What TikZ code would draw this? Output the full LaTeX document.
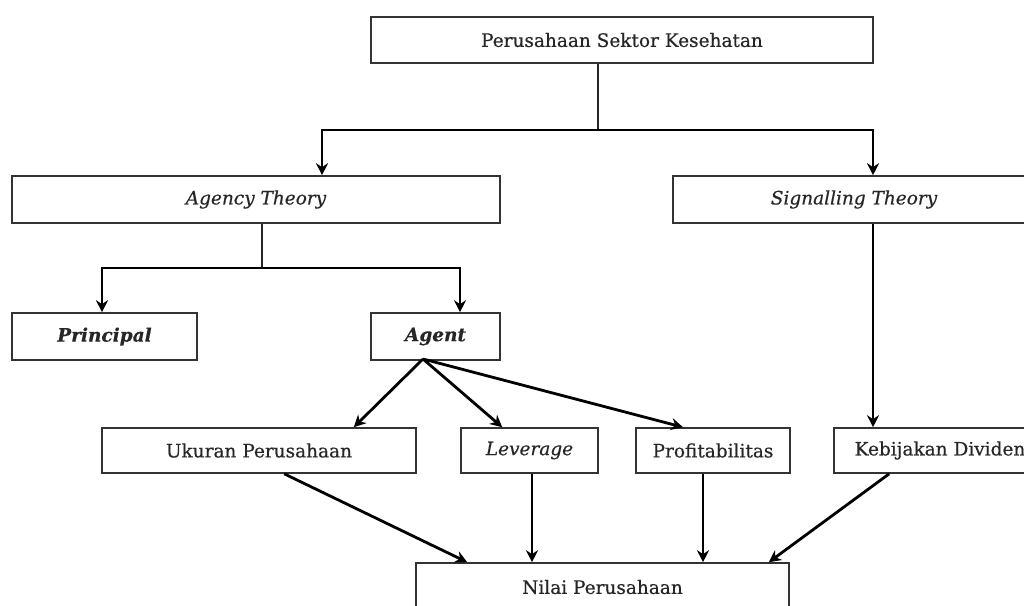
\documentclass[tikz,border=0pt]{standalone}
\usepackage{fontspec}
\setmainfont{DejaVu Serif}[FakeBold=0.5]
\usetikzlibrary{arrows.meta}

\begin{document}
\begin{tikzpicture}[x=1pt,y=-1pt,
  kotak/.style={draw=black!80, line width=1.6pt, inner sep=0pt, text=black!85,
    font=\fontsize{18.5}{22}\selectfont},
  garis/.style={line width=2pt, black!85},
  panah/.style={line width=2.8pt, -{Stealth[length=12pt,width=12pt]}}]

\useasboundingbox (0,0) rectangle (1024,605);

\node[kotak, minimum width=502pt, minimum height=46pt] (sektor) at (622,40) {Perusahaan Sektor Kesehatan};
\node[kotak, minimum width=488pt, minimum height=47pt] (agency) at (256,199.5) {\itshape Agency Theory};
\node[kotak, minimum width=362pt, minimum height=47pt] (signal) at (854,199.5) {\itshape Signalling Theory};
\node[kotak, minimum width=185pt, minimum height=47pt] (principal) at (104.5,336.5) {\bfseries\itshape Principal};
\node[kotak, minimum width=129pt, minimum height=47pt] (agent) at (435.5,336.5) {\bfseries\itshape Agent};
\node[kotak, minimum width=314pt, minimum height=45pt] (ukuran) at (259,450.5) {Ukuran Perusahaan};
\node[kotak, minimum width=137pt, minimum height=45pt] (leverage) at (529.5,450.5) {\itshape Leverage};
\node[kotak, minimum width=154pt, minimum height=45pt] (profit) at (713,450.5) {Profitabilitas};
\node[kotak, minimum width=212pt, minimum height=45pt] (dividen) at (940,450.5) {Kebijakan Dividen};
\node[kotak, minimum width=373pt, minimum height=48pt] (nilai) at (602.5,587) {Nilai Perusahaan};

% cabang atas
\coordinate (tengah) at (598,130);
\coordinate (kiri) at (322,130);
\coordinate (kanan) at (873,130);
\draw[garis] (sektor.south -| tengah) -- (tengah);
\draw[panah] (tengah) -| (kiri |- agency.north);
\draw[panah] (tengah) -| (kanan |- signal.north);

% cabang agency
\coordinate (bagi) at (262,268);
\coordinate (kiriB) at (102,268);
\coordinate (kananB) at (460,268);
\draw[garis] (agency.south -| bagi) -- (bagi);
\draw[panah] (bagi) -| (kiriB |- principal.north);
\draw[panah] (bagi) -| (kananB |- agent.north);

\draw[panah] (kanan |- signal.south) -- (kanan |- dividen.north);

% dari agent
\coordinate (pangkal) at (423,359);
\draw[panah] (pangkal) -- ([xshift=-63pt]ukuran.north east);
\draw[panah] (pangkal) -- ([xshift=42pt]leverage.north west);
\draw[panah] (pangkal) -- ([xshift=-30pt]profit.north);

% ke nilai perusahaan
\draw[panah] ([xshift=183pt]ukuran.south west) -- ([xshift=52pt]nilai.north west);
\draw[panah] ([xshift=2.5pt]leverage.south) -- ([xshift=2.5pt]leverage.south |- nilai.north);
\draw[panah] ([xshift=-10pt]profit.south) -- ([xshift=-10pt]profit.south |- nilai.north);
\draw[panah] ([xshift=56pt]dividen.south west) -- ([xshift=-21pt]nilai.north east);
\end{tikzpicture}
\end{document}
